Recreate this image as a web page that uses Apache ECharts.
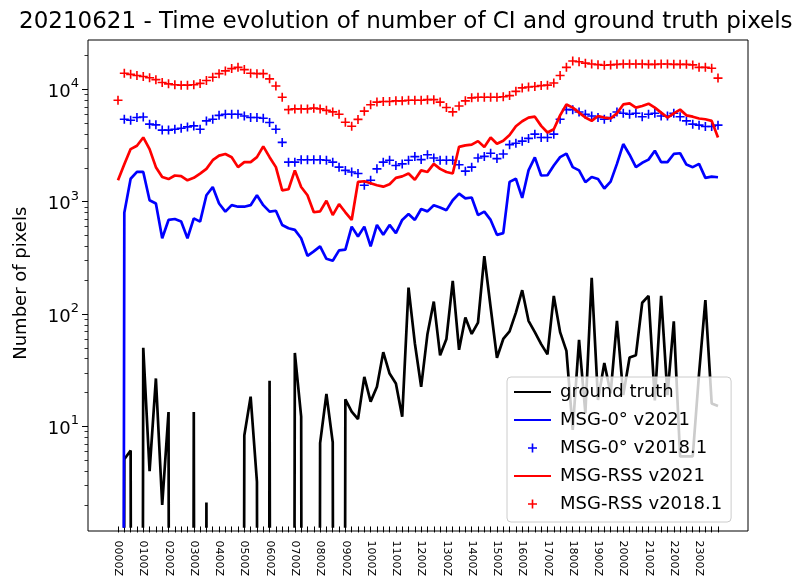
<!DOCTYPE html>
<html><head><meta charset="utf-8">
<script src="https://cdn.jsdelivr.net/npm/echarts@6/dist/echarts.min.js"></script>
<style>html,body{margin:0;padding:0;background:#fff}#c{width:793px;height:579px}</style>
</head><body><div id="c"></div>
<script>
const times = ["0000Z","0015Z","0030Z","0045Z","0100Z","0115Z","0130Z","0145Z","0200Z","0215Z","0230Z","0245Z",
"0300Z","0315Z","0330Z","0345Z","0400Z","0415Z","0430Z","0445Z","0500Z","0515Z","0530Z","0545Z",
"0600Z","0615Z","0630Z","0645Z","0700Z","0715Z","0730Z","0745Z","0800Z","0815Z","0830Z","0845Z",
"0900Z","0915Z","0930Z","0945Z","1000Z","1015Z","1030Z","1045Z","1100Z","1115Z","1130Z","1145Z",
"1200Z","1215Z","1230Z","1245Z","1300Z","1315Z","1330Z","1345Z","1400Z","1415Z","1430Z","1445Z",
"1500Z","1515Z","1530Z","1545Z","1600Z","1615Z","1630Z","1645Z","1700Z","1715Z","1730Z","1745Z",
"1800Z","1815Z","1830Z","1845Z","1900Z","1915Z","1930Z","1945Z","2000Z","2015Z","2030Z","2045Z",
"2100Z","2115Z","2130Z","2145Z","2200Z","2215Z","2230Z","2245Z","2300Z","2315Z","2330Z","2345Z"];

const groundTruth = [0,5.1,6.1,0,50,4.0,26.7,2.0,13.4,0,0,0,
13.4,0,2.1,0,0,0,0,0,8.3,18.4,3.2,0,
25.5,0,0,0,45,12.2,0,0,7.1,19.4,7.2,0,
17.4,13.5,11.6,27.6,16.6,22.5,45.8,29.5,24.1,12.2,172,55,
22.5,66.5,129,42.9,60,197,48,93,66.5,84,327,115,
40.8,60,70,103,163,87,69,54,43.7,145,69,47,
9.3,59,13.1,210,17.2,36.6,19.7,87,19,41,43,126,
145,17,145,19,86,5.4,5.4,5.4,29.5,133,16,15.2];

const msg0v2021 = [0,798,1600,1840,1840,1030,964,473,688,701,665,473,
710,665,1140,1350,964,815,931,902,902,931,1140,931,
815,831,621,580,561,473,330,361,400,310,298,369,
374,600,490,600,400,621,507,621,525,688,776,688,
860,820,931,889,841,1030,1180,1070,1090,760,815,688,
507,525,1500,1600,1080,1900,2480,1710,1720,2100,2490,2680,
2030,1900,1490,1660,1590,1310,1510,2170,3260,2620,2030,2220,
2370,2840,2250,2250,2660,2700,2140,2030,2170,1630,1670,1650];

const msg0v2018 = [null,5420,5310,5610,5680,4900,4830,4340,4340,4420,4510,4630,
4730,4420,5240,5420,5870,6000,6000,6000,5790,5610,5610,5530,
5070,4420,3370,2250,2250,2360,2360,2360,2360,2340,2250,2030,
1900,1840,1780,1400,1550,1960,2250,2340,2100,2170,2340,2520,
2370,2620,2450,2340,2340,2340,2130,1870,2030,2450,2530,2700,
2420,2660,3220,3310,3460,3660,3990,3730,3730,3990,5420,6600,
6600,6280,6000,5790,5610,5420,5610,6280,6120,6000,6120,5710,
6000,6120,5790,5790,6120,5710,5240,4900,4800,4670,4670,4800];

const rssv2021 = [1550,2150,2940,3150,3730,2940,2030,1660,1590,1710,1690,1550,
1630,1780,1960,2340,2570,2660,2490,2030,2250,2250,2490,3110,
2490,2030,1260,1290,1900,1350,1140,805,820,1020,760,950,
805,688,1500,1520,1460,1400,1360,1430,1630,1680,1780,1570,
1900,1840,2170,1960,1840,1780,3080,3170,3220,3460,3070,3730,
3280,3490,3920,4700,5200,5600,5710,4730,4130,4420,5870,7340,
6870,6210,5610,5240,5790,5610,5500,6120,7340,7500,6870,7100,
7450,6870,6210,5610,6120,6600,5870,5710,5500,5420,5240,3730];

const rssv2018 = [8000,13900,13600,13300,13000,12700,12200,11500,11200,11000,10900,10900,
11000,11300,12000,12800,13800,14600,15300,15700,15000,13900,13800,13800,
12400,10700,8500,6600,6700,6700,6700,6800,6700,6500,6300,6000,
5100,4700,5400,6400,7300,7700,7800,7800,7900,7900,8000,8000,
8000,8100,8100,7700,6900,6300,7100,7900,8400,8500,8500,8500,
8500,8600,8800,9600,10300,10500,10600,10800,10900,11400,13300,15700,
17900,17600,17100,16800,16600,16400,16500,16700,16800,16800,16800,16800,
16700,16700,16800,16800,16700,16700,16700,16500,15700,15700,15400,12600];

const yTickValues = [10, 100, 1000, 10000];
const yMinorTickValues = [2,3,4,5,6,7,8,9,20,30,40,50,60,70,80,90,200,300,400,500,600,700,800,900,
2000,3000,4000,5000,6000,7000,8000,9000,20000];
const seriesNames = ["ground truth","MSG-0° v2021","MSG-0° v2018.1","MSG-RSS v2021","MSG-RSS v2018.1"];

const YMIN = 1.285, YMAX = 27500;
const ZERO = 1e-30; // zero counts are drawn as a plunge off the bottom of the log axis
const toLog = arr => arr.map(v => (v === 0 ? ZERO : v));
const PLUS = 'path://M0,0h0.01v0.01h-0.01z M19.99,19.99h0.01v0.01h-0.01z M9.1,5h1.8v4.1h4.1v1.8h-4.1v4.1h-1.8v-4.1h-4.1v-1.8h4.1z';
const FONT = 'DejaVu Sans';

const chart = echarts.init(document.getElementById('c'), null, {renderer: 'canvas'});
chart.setOption({
  animation: false,
  backgroundColor: '#ffffff',
  textStyle: {fontFamily: FONT, color: '#000'},
  title: {
    text: '20210621 - Time evolution of number of CI and ground truth pixels',
    left: 14, top: 6,
    textStyle: {fontFamily: FONT, fontSize: 23, fontWeight: 'normal', color: '#000'}
  },
  grid: [
    {left: 88, top: 40, width: 660, height: 491, show: true, borderColor: '#000', borderWidth: 1, backgroundColor: 'transparent'},
    {left: 118, top: 40, width: 600, height: 491}
  ],
  xAxis: [
    {gridIndex: 0, type: 'value', show: false, min: 0, max: 1},
    {gridIndex: 1, type: 'category', data: times, boundaryGap: false,
     axisLine: {show: false},
     axisTick: {show: true, interval: 0, length: 6, lineStyle: {color: '#000', width: 1}},
     axisLabel: {interval: 3, rotate: -90, fontSize: 11, fontFamily: FONT, color: '#000', margin: 14},
     splitLine: {show: false}}
  ],
  yAxis: [
    {gridIndex: 0, type: 'value', show: false, min: 0, max: 1},
    {gridIndex: 1, type: 'log', min: YMIN, max: YMAX, position: 'left', offset: 30,
     axisLine: {show: false}, splitLine: {show: false},
     axisTick: {show: true, length: 6, customValues: yTickValues, lineStyle: {color: '#000', width: 1}},
     axisLabel: {show: true, customValues: yTickValues, margin: 9,
       formatter: v => '{b|10}{s|' + Math.round(Math.log10(v)) + '}',
       rich: {
         b: {fontSize: 18, fontFamily: FONT, color: '#000', lineHeight: 24, verticalAlign: 'bottom'},
         s: {fontSize: 13, fontFamily: FONT, color: '#000', lineHeight: 13, verticalAlign: 'top'}
       }},
     name: 'Number of pixels', nameLocation: 'middle', nameGap: 58,
     nameTextStyle: {fontSize: 18, fontFamily: FONT, color: '#000'}},
    {gridIndex: 1, type: 'log', min: YMIN, max: YMAX, position: 'left', offset: 30,
     axisLine: {show: false}, splitLine: {show: false}, axisLabel: {show: false},
     axisTick: {show: true, length: 3.5, customValues: yMinorTickValues, lineStyle: {color: '#000', width: 0.8}}}
  ],
  legend: {
    orient: 'vertical', left: 507, top: 377,
    padding: [6, 9, 9, 6], itemWidth: 37, itemHeight: 18, itemGap: 10,
    backgroundColor: 'rgba(255,255,255,0.8)', borderColor: '#cccccc', borderWidth: 1, borderRadius: 4,
    textStyle: {fontSize: 18, fontFamily: FONT, color: '#000', padding: [0, 0, 0, 4]},
    data: [
      {name: seriesNames[0], itemStyle: {opacity: 0}},
      {name: seriesNames[1], itemStyle: {opacity: 0}},
      {name: seriesNames[2]},
      {name: seriesNames[3], itemStyle: {opacity: 0}},
      {name: seriesNames[4]}
    ]
  },
  series: [
    {name: seriesNames[0], type: 'line', xAxisIndex: 1, yAxisIndex: 1, data: toLog(groundTruth),
     symbol: 'none', lineStyle: {color: '#000000', width: 2.7}, itemStyle: {color: '#000000'}},
    {name: seriesNames[1], type: 'line', xAxisIndex: 1, yAxisIndex: 1, data: toLog(msg0v2021),
     symbol: 'none', lineStyle: {color: '#0000ff', width: 2.7}, itemStyle: {color: '#0000ff'}},
    {name: seriesNames[2], type: 'scatter', xAxisIndex: 1, yAxisIndex: 1, data: msg0v2018,
     symbol: PLUS, symbolSize: 18, itemStyle: {color: '#0000ff', opacity: 1}},
    {name: seriesNames[3], type: 'line', xAxisIndex: 1, yAxisIndex: 1, data: toLog(rssv2021),
     symbol: 'none', lineStyle: {color: '#ff0000', width: 2.7}, itemStyle: {color: '#ff0000'}},
    {name: seriesNames[4], type: 'scatter', xAxisIndex: 1, yAxisIndex: 1, data: rssv2018,
     symbol: PLUS, symbolSize: 18, itemStyle: {color: '#ff0000', opacity: 1}}
  ]
});
</script>
</body></html>
